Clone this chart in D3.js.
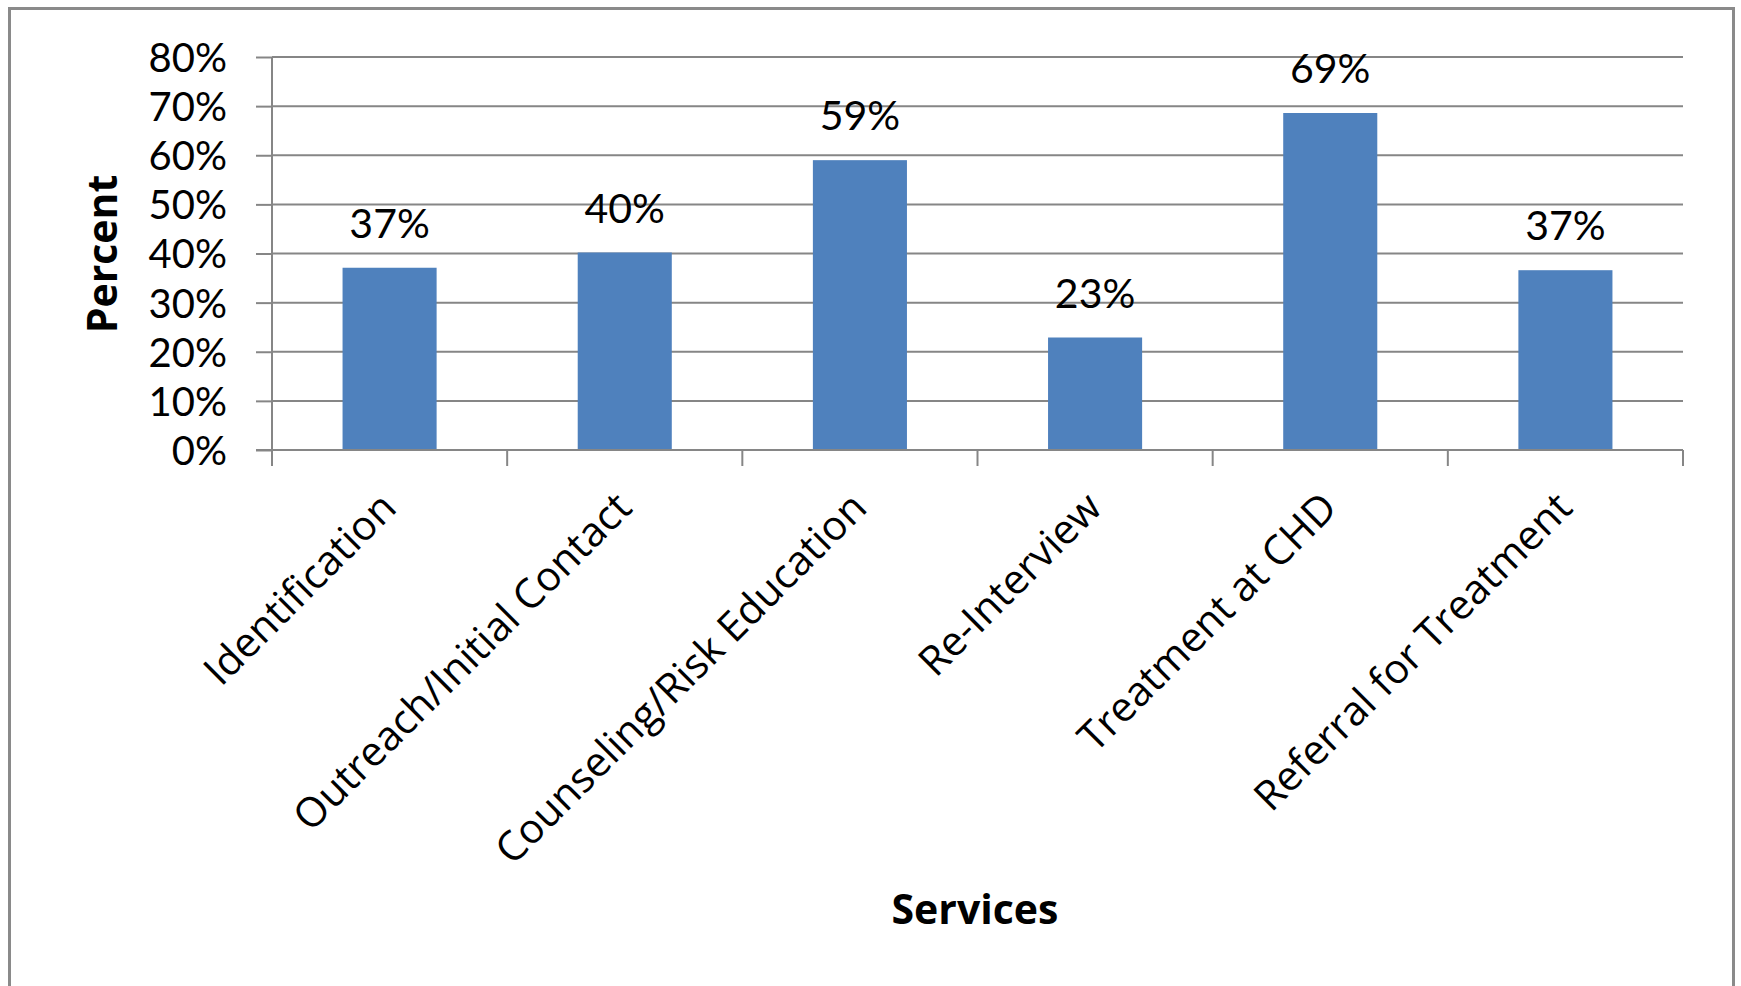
<!DOCTYPE html>
<html>
<head>
<meta charset="utf-8">
<script src="https://cdn.jsdelivr.net/npm/d3@7/dist/d3.min.js"></script>
<style>
  html, body { margin: 0; padding: 0; background: #ffffff; }
  svg { display: block; }
  text { font-family: "Open Sans", "Liberation Sans", sans-serif; fill: #000; }
  .num { font-family: Lato, "Open Sans", sans-serif; }
</style>
</head>
<body>
<svg id="chart" width="1741" height="986"></svg>
<script>
// Share of cases receiving each service
const categories = [
  "Identification",
  "Outreach/Initial Contact",
  "Counseling/Risk Education",
  "Re-Interview",
  "Treatment at CHD",
  "Referral for Treatment"
];
const percentValues = [0.371, 0.402, 0.590, 0.229, 0.686, 0.366];
const yTickValues = [0, 0.1, 0.2, 0.3, 0.4, 0.5, 0.6, 0.7, 0.8];
const xAxisTitle = "Services";
const yAxisTitle = "Percent";

const svg = d3.select("#chart");

// outer chart frame (bottom edge runs past the visible area)
svg.append("rect")
  .attr("x", 9.5).attr("y", 8.5)
  .attr("width", 1724).attr("height", 1200)
  .attr("fill", "#ffffff")
  .attr("stroke", "#8a8a8a")
  .attr("stroke-width", 3);

const plot = { left: 272, right: 1683, top: 57, bottom: 450 };

const x = d3.scaleBand()
  .domain(categories)
  .range([plot.left, plot.right])
  .padding(0);

const y = d3.scaleLinear()
  .domain([0, 0.8])
  .range([plot.bottom, plot.top]);

const gridColor = "#868686";
const fmt = d3.format(".0%");

// value axis: outside tick marks and percentage labels
const yAxis = d3.axisLeft(y)
  .tickValues(yTickValues)
  .tickSize(16)
  .tickFormat(fmt);

const gy = svg.append("g")
  .attr("transform", `translate(${plot.left},0)`)
  .call(yAxis);
gy.select(".domain").remove();
gy.selectAll(".tick line").attr("stroke", gridColor).attr("stroke-width", 2);
gy.selectAll(".tick text")
  .attr("class", "num")
  .attr("x", -45)
  .attr("dy", "0.36em")
  .style("font-size", "40px")
  .attr("fill", "#000");

// horizontal gridlines
svg.append("g")
  .selectAll("line")
  .data(yTickValues)
  .join("line")
  .attr("x1", plot.left)
  .attr("x2", plot.right)
  .attr("y1", d => y(d))
  .attr("y2", d => y(d))
  .attr("stroke", gridColor)
  .attr("stroke-width", 2);

// bars
const barFrac = 0.4;
svg.append("g")
  .selectAll("rect")
  .data(categories)
  .join("rect")
  .attr("x", (c) => x(c) + x.bandwidth() * (1 - barFrac) / 2)
  .attr("width", x.bandwidth() * barFrac)
  .attr("y", (c, i) => y(percentValues[i]))
  .attr("height", (c, i) => y(0) - y(percentValues[i]))
  .attr("fill", "#4f81bd");

// value labels above bars
svg.append("g")
  .selectAll("text")
  .data(categories)
  .join("text")
  .attr("class", "num")
  .attr("x", c => x(c) + x.bandwidth() / 2)
  .attr("y", (c, i) => y(percentValues[i]) - 30)
  .attr("text-anchor", "middle")
  .style("font-size", "41px")
  .text((c, i) => fmt(percentValues[i]));

// vertical axis line
svg.append("line")
  .attr("x1", plot.left).attr("x2", plot.left)
  .attr("y1", plot.top).attr("y2", plot.bottom + 16)
  .attr("stroke", gridColor).attr("stroke-width", 2);

// category axis: boundary ticks and rotated labels
const boundaries = categories.map(c => x(c)).concat([plot.right]);
svg.append("line")
  .attr("x1", plot.left - 16).attr("x2", plot.right)
  .attr("y1", plot.bottom).attr("y2", plot.bottom)
  .attr("stroke", gridColor).attr("stroke-width", 2);
svg.append("g")
  .selectAll("line")
  .data(boundaries)
  .join("line")
  .attr("x1", d => d).attr("x2", d => d)
  .attr("y1", plot.bottom).attr("y2", plot.bottom + 16)
  .attr("stroke", gridColor).attr("stroke-width", 2);

svg.append("g")
  .selectAll("text")
  .data(categories)
  .join("text")
  .attr("transform", c => `translate(${x(c) + x.bandwidth() / 2 + 9},${plot.bottom + 60}) rotate(-45)`)
  .attr("text-anchor", "end")
  .style("font-size", "41px")
  .text(c => c);

// axis titles
svg.append("text")
  .attr("x", 975)
  .attr("y", 924)
  .attr("text-anchor", "middle")
  .style("font-size", "41px")
  .style("font-weight", "bold")
  .text(xAxisTitle);

svg.append("text")
  .attr("transform", "translate(117,254) rotate(-90)")
  .attr("text-anchor", "middle")
  .style("font-size", "41px")
  .style("font-weight", "bold")
  .text(yAxisTitle);
</script>
</body>
</html>
